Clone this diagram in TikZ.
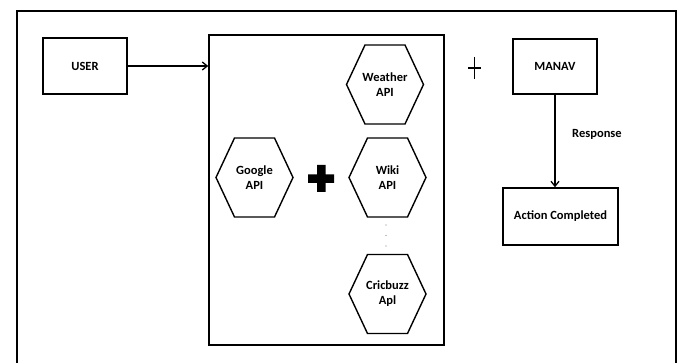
\documentclass[tikz,border=0pt]{standalone}
\usepackage{fontspec}
\setmainfont{Carlito}
\usetikzlibrary{arrows.meta}

\tikzset{
  frameline/.style={line width=1.9pt},
  box/.style={draw, line width=1.4pt, rectangle, inner sep=0pt,
    font=\fontsize{12.5}{15}\selectfont\bfseries, align=center},
  hextext/.style={inner sep=0pt, align=center,
    font=\fontsize{12.5}{15}\selectfont\bfseries},
  hexline/.style={line width=1.4pt, line join=miter},
  flow/.style={line width=1.3pt, -{Straight Barb[length=5pt,width=8pt,line width=1.3pt]}},
  lbl/.style={inner sep=0pt, font=\fontsize{12.5}{15}\selectfont\bfseries},
  thinplus/.style={line width=1.1pt},
}

% hexagon with flat top and bottom around a text node
\newcommand\apihex[4]{%
  \node[hextext] (#1) at (#2,#3) {#4};
  \draw[hexline] ([xshift=-38.5pt]#1.center)
    -- ([xshift=-20pt,yshift=39.5pt]#1.center)
    -- ([xshift=20pt,yshift=39.5pt]#1.center)
    -- ([xshift=38.5pt]#1.center)
    -- ([xshift=20pt,yshift=-39.5pt]#1.center)
    -- ([xshift=-20pt,yshift=-39.5pt]#1.center)
    -- cycle;
}

\begin{document}
\begin{tikzpicture}[x=1pt,y=-1pt]
  \useasboundingbox (0,0) rectangle (681,363);
  \fill[white] (0,0) rectangle (681,363);

  % outer frame, open at the bottom
  \draw[frameline] (17,363) -- (17,11) -- (676,11) -- (676,363);

  % boxes
  \node[box, minimum width=84pt, minimum height=56pt] (user) at (85,66) {USER};
  \node[box, minimum width=235pt, minimum height=310pt] (stack) at (326.5,190) {};
  \node[box, minimum width=84pt, minimum height=55pt] (manav) at (555,66.5) {MANAV};
  \node[box, minimum width=115pt, minimum height=57pt] (done) at (560.5,216.5) {Action Completed};

  % API hexagons
  \apihex{google}{254.5}{177.5}{Google\\API}
  \apihex{weather}{385}{84.5}{Weather\\API}
  \apihex{wiki}{387.5}{177.5}{Wiki\\API}
  \apihex{cricbuzz}{387.5}{294}{Cricbuzz\\Apl}

  % dots between the hexagons
  \foreach \yy in {225,235.5,246}
    \fill[gray] (386,\yy) circle (0.7pt);

  % heavy plus
  \fill (317,165) -- (325.5,165) -- (325.5,174.5) -- (334,174.5) -- (334,183)
    -- (325.5,183) -- (325.5,192) -- (317,192) -- (317,183) -- (308,183)
    -- (308,174.5) -- (317,174.5) -- cycle;

  % thin plus
  \draw[thinplus] (474.5,57) -- (474.5,79);
  \draw[thinplus] (468,68) -- (481,68);

  % connectors
  \draw[flow] (user.east) -- (user.east -| stack.west);
  \draw[flow] (manav.south) -- (done.north -| manav.south);
  \node[lbl, anchor=west] (resp) at (572,134) {Response};
\end{tikzpicture}
\end{document}
